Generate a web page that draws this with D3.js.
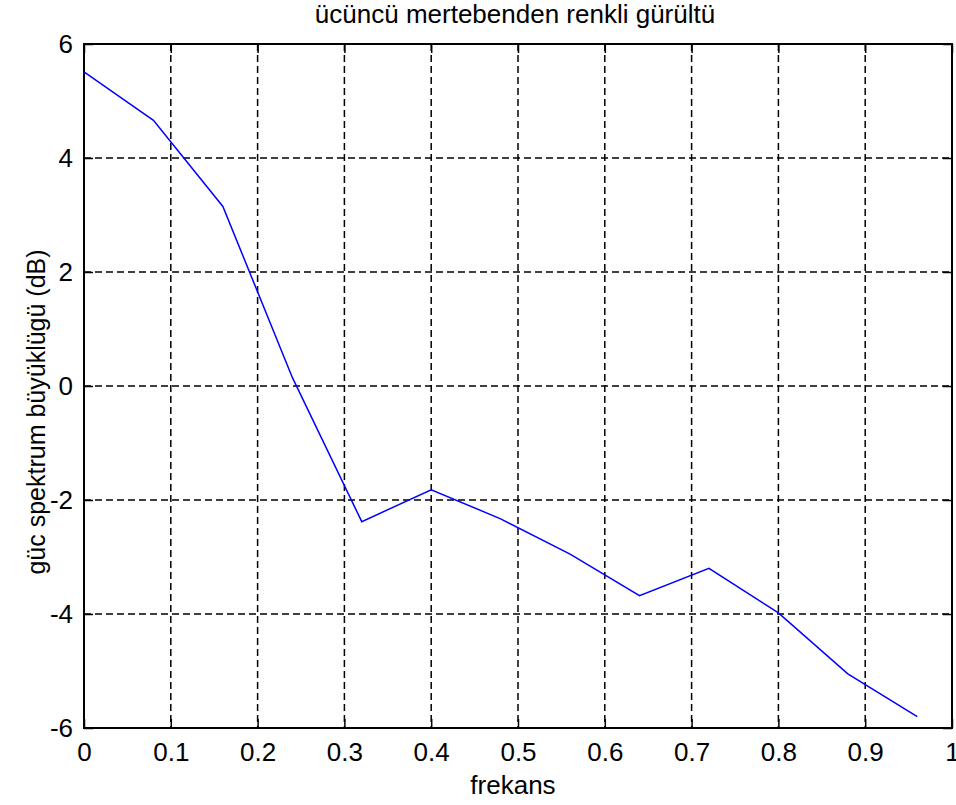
<!DOCTYPE html>
<html>
<head>
<meta charset="utf-8">
<script src="https://cdn.jsdelivr.net/npm/d3@7/dist/d3.min.js"></script>
<style>
  html, body { margin: 0; padding: 0; background: #ffffff; }
  text { font-family: "Liberation Sans", Arial, sans-serif; fill: #000; }
</style>
</head>
<body>
<svg id="chart" width="956" height="805"></svg>
<script>
const titleText = "ücüncü mertebenden renkli gürültü";
const xLabel = "frekans";
const yLabel = "güc spektrum büyüklügü (dB)";
const freq = [0, 0.08, 0.16, 0.24, 0.32, 0.40, 0.48, 0.56, 0.64, 0.72, 0.80, 0.88, 0.96];
const power = [5.51, 4.66, 3.15, 0.15, -2.38, -1.82, -2.33, -2.95, -3.68, -3.2, -3.98, -5.05, -5.8];
const xTicks = [0, 0.1, 0.2, 0.3, 0.4, 0.5, 0.6, 0.7, 0.8, 0.9, 1];
const yTicks = [-6, -4, -2, 0, 2, 4, 6];

const svg = d3.select("#chart");
const pLeft = 84, pRight = 952, pTop = 44, pBottom = 728;
const x = d3.scaleLinear().domain([0, 1]).range([pLeft, pRight]);
const y = d3.scaleLinear().domain([-6, 6]).range([pBottom, pTop]);

svg.append("rect").attr("x", 0).attr("y", 0).attr("width", 956).attr("height", 805).attr("fill", "#fff");

// grid
const g = svg.append("g");
g.selectAll(".vg").data(xTicks.slice(1, -1)).join("line")
  .attr("x1", d => x(d)).attr("x2", d => x(d))
  .attr("y1", pTop).attr("y2", pBottom)
  .attr("stroke", "#000").attr("stroke-width", 1.5).attr("stroke-dasharray", "7,4");
g.selectAll(".hg").data(yTicks.slice(1, -1)).join("line")
  .attr("y1", d => y(d)).attr("y2", d => y(d))
  .attr("x1", pLeft).attr("x2", pRight)
  .attr("stroke", "#000").attr("stroke-width", 1.5).attr("stroke-dasharray", "7,4");

// axes with inward ticks
const tl = 9;
const fmt = d => String(d);
const xAxisB = d3.axisBottom(x).tickValues(xTicks).tickSize(-tl).tickPadding(tl + 6).tickFormat(fmt);
const xAxisT = d3.axisTop(x).tickValues(xTicks).tickSize(-tl).tickFormat("");
const yAxisL = d3.axisLeft(y).tickValues(yTicks).tickSize(-tl).tickPadding(tl + 2).tickFormat(fmt);
const yAxisR = d3.axisRight(y).tickValues(yTicks).tickSize(-tl).tickFormat("");

function style(sel) {
  sel.select(".domain").remove();
  sel.selectAll(".tick line").attr("stroke", "#000").attr("stroke-width", 1.5);
  sel.selectAll("text").attr("font-size", 26).attr("font-family", "Liberation Sans, Arial, sans-serif").attr("fill", "#000");
}
svg.append("g").attr("transform", `translate(0,${pBottom})`).call(xAxisB).call(style)
  .selectAll("text").attr("dy", "0.71em");
svg.append("g").attr("transform", `translate(0,${pTop})`).call(xAxisT).call(style);
svg.append("g").attr("transform", `translate(${pLeft},0)`).call(yAxisL).call(style);
svg.append("g").attr("transform", `translate(${pRight},0)`).call(yAxisR).call(style);

// box
svg.append("rect").attr("x", pLeft).attr("y", pTop).attr("width", pRight - pLeft).attr("height", pBottom - pTop)
  .attr("fill", "none").attr("stroke", "#000").attr("stroke-width", 2);

// data line
const line = d3.line().x((d, i) => x(freq[i])).y(d => y(d));
svg.append("path").datum(power).attr("d", line)
  .attr("fill", "none").attr("stroke", "#0000ff").attr("stroke-width", 1.5);

// labels
svg.append("text").attr("x", 515).attr("y", 23).attr("text-anchor", "middle").attr("font-size", 26).text(titleText);
svg.append("text").attr("x", 513).attr("y", 794).attr("text-anchor", "middle").attr("font-size", 26).text(xLabel);
svg.append("text").attr("transform", "translate(45,412) rotate(-90)").attr("text-anchor", "middle").attr("font-size", 25).text(yLabel);
</script>
</body>
</html>
